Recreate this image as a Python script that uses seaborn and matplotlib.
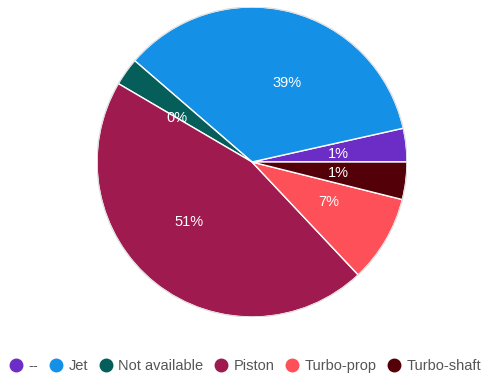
import numpy as np
import seaborn as sns
from matplotlib import pyplot as plt
from matplotlib.lines import Line2D

# categories and values (slice shares as drawn, labels as printed)
categories = ['--', 'Jet', 'Not available', 'Piston', 'Turbo-prop', 'Turbo-shaft']
shares = [3.5, 35.2, 2.9, 45.5, 9.1, 3.9]
pct_labels = ['1%', '39%', '0%', '51%', '7%', '1%']
colors = ['#6c2dc7', '#1491e6', '#055e59', '#9e1a4f', '#fd5059', '#530008']
# small angular nudge of each inside label (degrees)
label_shift = [-1, -10, 5, -8, 3, 0]

sns.set_theme(style="white")
plt.rcParams['font.family'] = ['Liberation Sans', 'DejaVu Sans']

fig = plt.figure(figsize=(4.93, 3.81), dpi=100)
ax = fig.add_axes([97 / 493, 64 / 381, 310 / 493, 310 / 381])

wedges, _ = ax.pie(shares, colors=colors, startangle=0, counterclock=True,
                   wedgeprops=dict(edgecolor='white', linewidth=1))
ax.set_xlim(-1.0, 1.0)
ax.set_ylim(-1.0, 1.0)
ax.set_aspect('equal')

# outer thin grey rim
rim = plt.Circle((0, 0), 1.0, fill=False, edgecolor='#dddddd', linewidth=0.8)
ax.add_patch(rim)

# percentage labels inside slices
for w, txt, sh in zip(wedges, pct_labels, label_shift):
    ang = np.deg2rad((w.theta1 + w.theta2) / 2 + sh)
    ax.text(0.56 * np.cos(ang), 0.56 * np.sin(ang), txt, color='white',
            fontsize=10.5, ha='center', va='center')

handles = [Line2D([], [], marker='o', linestyle='', markersize=9,
                  markerfacecolor=c, markeredgecolor=c) for c in colors]
fig.legend(handles, categories, loc='center', bbox_to_anchor=(0.497, 0.04),
           ncol=6, frameon=False, fontsize=10.5, handlelength=1.0,
           handletextpad=0.35, columnspacing=0.72, labelcolor='#555555')

fig.savefig('out.png', dpi=100)
